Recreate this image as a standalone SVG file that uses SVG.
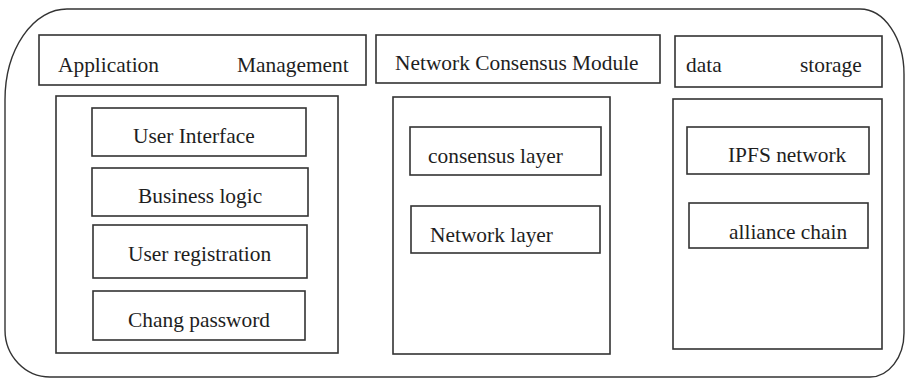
<svg xmlns="http://www.w3.org/2000/svg" width="906" height="378" viewBox="0 0 906 378">
<style>
.b{fill:#fff;stroke:#333;stroke-width:1.6}
.o{fill:none;stroke:#333;stroke-width:1.4}
text{font-family:'Liberation Serif','DejaVu Serif',serif;font-size:21.4px;fill:#1e1e1e}
</style>
<rect width="906" height="378" fill="#fff"/>
<g id="outer"><path class="o" d="M67 9 L860 9 A44 65 0 0 1 904 74 L904 333 A34 44 0 0 1 870 377 L50 377 A45 47 0 0 1 5 330 L5 100 A62 91 0 0 1 67 9 Z"/></g>
<g id="app-header"><rect class="b" x="39" y="35" width="327" height="50"/><text x="58" y="72">Application</text><text x="237" y="72">Management</text></g>
<g id="app-container"><rect class="b" x="56" y="96" width="282" height="257"/></g>
<g id="user-interface"><rect class="b" x="92" y="108" width="214" height="48"/><text x="133" y="143">User Interface</text></g>
<g id="business-logic"><rect class="b" x="92" y="168" width="216" height="48"/><text x="138" y="203">Business logic</text></g>
<g id="user-registration"><rect class="b" x="93" y="225" width="214" height="53"/><text x="128" y="261">User registration</text></g>
<g id="chang-password"><rect class="b" x="93" y="291" width="212" height="49"/><text x="128" y="327">Chang password</text></g>
<g id="net-header"><rect class="b" x="376" y="35" width="284" height="48"/><text x="395" y="70">Network Consensus Module</text></g>
<g id="net-container"><rect class="b" x="393" y="97" width="217" height="257"/></g>
<g id="consensus-layer"><rect class="b" x="410" y="127" width="191" height="48"/><text x="428" y="163">consensus layer</text></g>
<g id="network-layer"><rect class="b" x="411" y="206" width="189" height="47"/><text x="430" y="242">Network layer</text></g>
<g id="data-header"><rect class="b" x="675" y="36" width="207" height="51"/><text x="686" y="72">data</text><text x="800" y="72">storage</text></g>
<g id="data-container"><rect class="b" x="673" y="99" width="209" height="250"/></g>
<g id="ipfs-network"><rect class="b" x="687" y="127" width="182" height="47"/><text x="728" y="162">IPFS network</text></g>
<g id="alliance-chain"><rect class="b" x="689" y="203" width="179" height="45"/><text x="729" y="239">alliance chain</text></g>
<g id="connectors"></g>
</svg>
